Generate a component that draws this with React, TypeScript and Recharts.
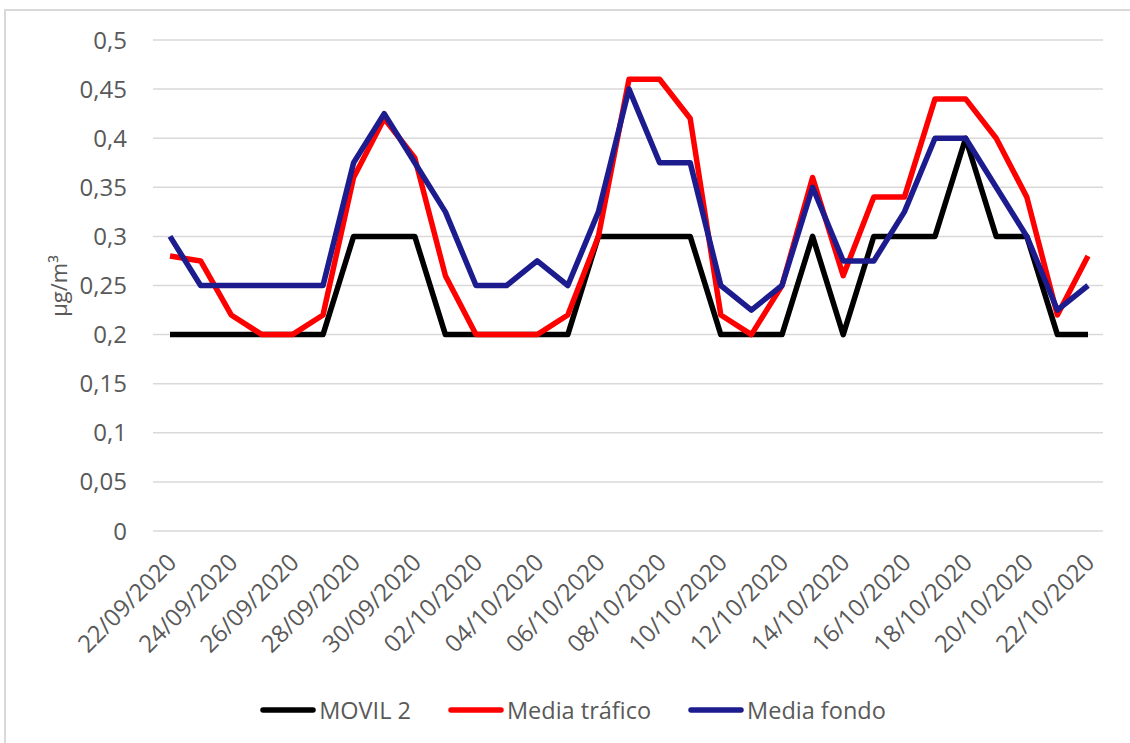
import React from 'react';
import { LineChart, Line, XAxis, YAxis, CartesianGrid, Legend } from 'recharts';

const dates = [
  '22/09/2020', '23/09/2020', '24/09/2020', '25/09/2020', '26/09/2020', '27/09/2020',
  '28/09/2020', '29/09/2020', '30/09/2020', '01/10/2020', '02/10/2020', '03/10/2020',
  '04/10/2020', '05/10/2020', '06/10/2020', '07/10/2020', '08/10/2020', '09/10/2020',
  '10/10/2020', '11/10/2020', '12/10/2020', '13/10/2020', '14/10/2020', '15/10/2020',
  '16/10/2020', '17/10/2020', '18/10/2020', '19/10/2020', '20/10/2020', '21/10/2020',
  '22/10/2020',
];

const movil2 = [
  0.2, 0.2, 0.2, 0.2, 0.2, 0.2, 0.3, 0.3, 0.3, 0.2, 0.2, 0.2, 0.2, 0.2, 0.3, 0.3,
  0.3, 0.3, 0.2, 0.2, 0.2, 0.3, 0.2, 0.3, 0.3, 0.3, 0.4, 0.3, 0.3, 0.2, 0.2,
];

const mediaTrafico = [
  0.28, 0.275, 0.22, 0.2, 0.2, 0.22, 0.36, 0.42, 0.38, 0.26, 0.2, 0.2, 0.2, 0.22, 0.3, 0.46,
  0.46, 0.42, 0.22, 0.2, 0.25, 0.36, 0.26, 0.34, 0.34, 0.44, 0.44, 0.4, 0.34, 0.22, 0.28,
];

const mediaFondo = [
  0.3, 0.25, 0.25, 0.25, 0.25, 0.25, 0.375, 0.425, 0.375, 0.325, 0.25, 0.25, 0.275, 0.25, 0.325, 0.45,
  0.375, 0.375, 0.25, 0.225, 0.25, 0.35, 0.275, 0.275, 0.325, 0.4, 0.4, 0.35, 0.3, 0.225, 0.25,
];

const seriesNames = ['MOVIL 2', 'Media tráfico', 'Media fondo'];

const yTicks = [0, 0.05, 0.1, 0.15, 0.2, 0.25, 0.3, 0.35, 0.4, 0.45, 0.5];

const data = dates.map((fecha, i) => ({
  fecha,
  movil: movil2[i],
  trafico: mediaTrafico[i],
  fondo: mediaFondo[i],
}));

const FONT = "'Open Sans', sans-serif";
const TEXT = '#595959';

const XTick = (props: any) => {
  const { x, y, payload } = props;
  return (
    <g transform={`translate(${x + 8},${y + 33})`}>
      <text
        x={0}
        y={0}
        textAnchor="end"
        transform="rotate(-45)"
        fill={TEXT}
        fontSize={24}
        fontFamily={FONT}
      >
        {payload.value}
      </text>
    </g>
  );
};

// keep the legend in the same order as the series were drawn
const LegendBox = (props: any) => {
  const items = [...(props.payload || [])].sort(
    (a: any, b: any) => seriesNames.indexOf(a.value) - seriesNames.indexOf(b.value)
  );
  return (
    <div style={{ display: 'flex', justifyContent: 'center', alignItems: 'center', height: 40 }}>
      {items.map((item: any, i: number) => (
        <div key={item.value} style={{ display: 'flex', alignItems: 'center', marginLeft: i === 0 ? 0 : 37 }}>
          <svg width={56} height={10}>
            <line x1={3} y1={5} x2={53} y2={5} stroke={item.color} strokeWidth={5.5} strokeLinecap="round" />
          </svg>
          <span style={{ marginLeft: 3, fontSize: 23.5, fontFamily: FONT, color: TEXT }}>{item.value}</span>
        </div>
      ))}
    </div>
  );
};

const YLabel = () => (
  <text
    x={58}
    y={286}
    transform="rotate(-90 58 286)"
    textAnchor="middle"
    dominantBaseline="central"
    fill={TEXT}
    fontSize={22}
    fontFamily={FONT}
  >
    µg/m³
  </text>
);

export default function App() {
  return (
    <div style={{ position: 'absolute', left: 0, top: 0, width: 1130, height: 743, overflow: 'hidden', background: '#fff' }}>
      <div style={{ position: 'absolute', left: 4, top: 9, width: 1150, height: 760, border: '2px solid #d9d9d9' }} />
      <div style={{ position: 'absolute', left: 0, top: 0 }}>
        <LineChart width={1130} height={743} data={data} margin={{ top: 40, right: 27, bottom: 13, left: 0 }}>
          <CartesianGrid vertical={false} stroke="#d9d9d9" strokeWidth={1.5} />
          <XAxis
            dataKey="fecha"
            interval={1}
            height={159}
            padding={{ left: 17, right: 15 }}
            axisLine={false}
            tickLine={false}
            tickSize={0}
            tickMargin={0}
            tick={<XTick />}
          />
          <YAxis
            width={153}
            domain={[0, 0.5]}
            ticks={yTicks}
            interval={0}
            axisLine={false}
            tickLine={false}
            tickSize={0}
            tickMargin={26}
            tick={{ fill: TEXT, fontSize: 24, fontFamily: FONT }}
            tickFormatter={(v: number) => String(v).replace('.', ',')}
            label={{ content: <YLabel /> }}
          />
          <Legend
            verticalAlign="bottom"
            height={40}
            content={<LegendBox />}
            wrapperStyle={{ left: 8, width: 1130 }}
          />
          <Line type="linear" dataKey="movil" name={seriesNames[0]} stroke="#000000" strokeWidth={5.5} dot={false} strokeLinejoin="round" isAnimationActive={false} />
          <Line type="linear" dataKey="trafico" name={seriesNames[1]} stroke="#ff0000" strokeWidth={5.5} dot={false} strokeLinejoin="round" isAnimationActive={false} />
          <Line type="linear" dataKey="fondo" name={seriesNames[2]} stroke="#1c1c8e" strokeWidth={5.5} dot={false} strokeLinejoin="round" isAnimationActive={false} />
        </LineChart>
      </div>
    </div>
  );
}
